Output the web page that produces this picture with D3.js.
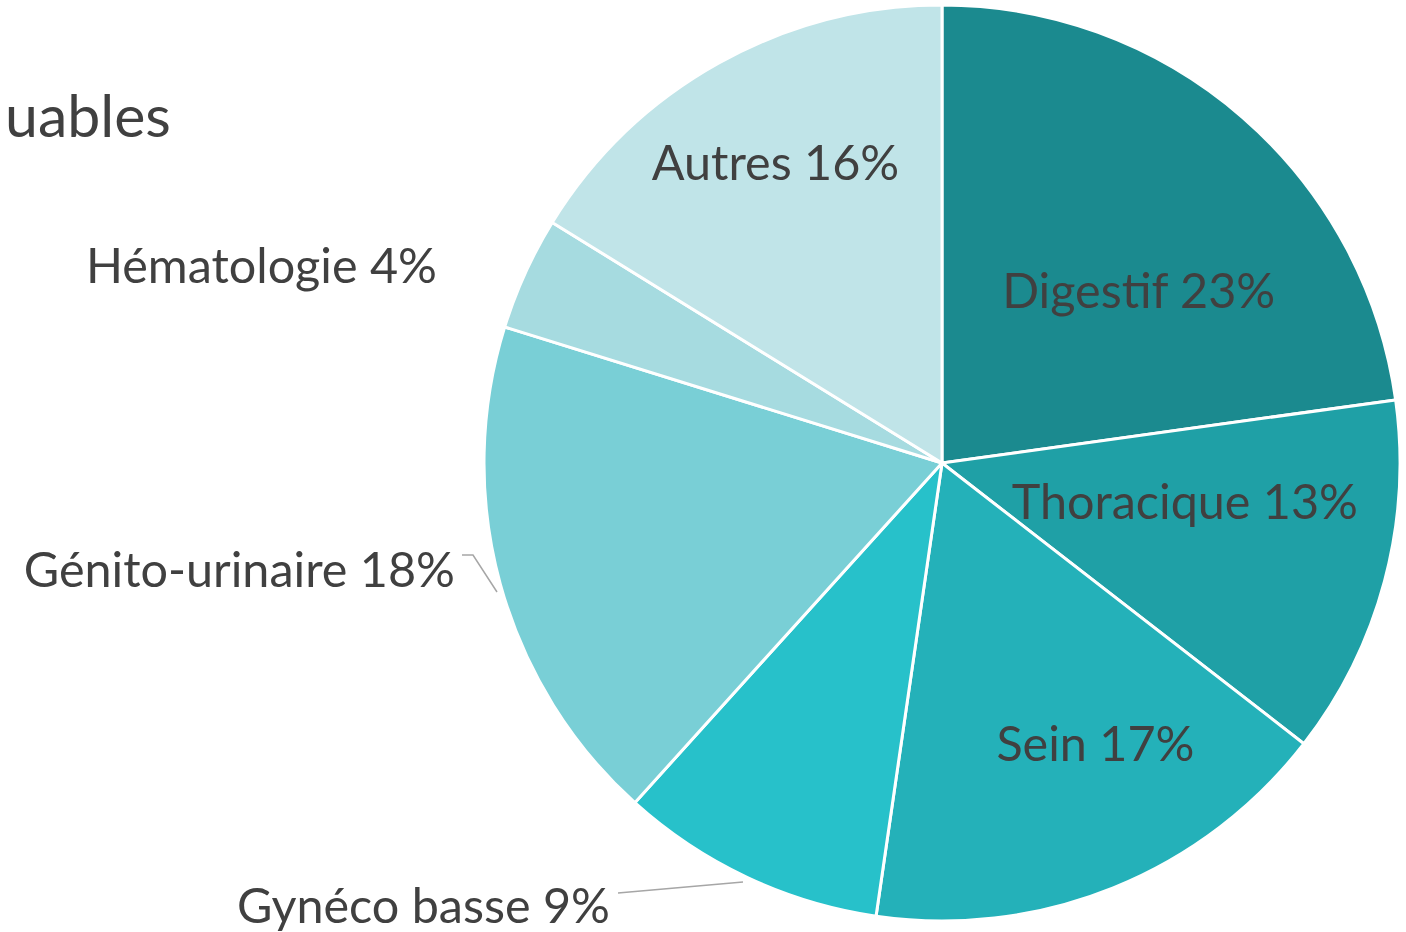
<!DOCTYPE html>
<html><head><meta charset="utf-8">
<script src="https://cdn.jsdelivr.net/npm/d3@7"></script>
<style>html,body{margin:0;padding:0;background:#fff;overflow:hidden}</style>
</head><body>
<svg id="chart" width="1406" height="932"></svg>
<script>
// Data
const categories = ["Digestif","Thoracique","Sein","Gynéco basse","Génito-urinaire","Hématologie","Autres"];
const shares = [22.8, 12.7, 16.8, 9.4, 18.1, 4.0, 16.2];
const colors = ["#1b8a8f","#1fa0a6","#24b1b9","#27c1ca","#79cfd6","#a6dbe0","#c0e4e8"];
const titleText = "uables";

// Layout
const W = 1406, H = 932;
const cx = 942, cy = 463, R = 458;
const font = "Lato, 'Open Sans', sans-serif";
const fs = 48.5;
const textColor = "#404040";
const labelLayout = [
  {mode:"in", r:0.57, a:48.9},
  {mode:"in", r:0.537, a:99.1},
  {mode:"in", r:0.70, a:151.4},
  {mode:"out", tx:-332, ty:460, anchor:"end", leader:[[-324,430],[-199,419]]},
  {mode:"out", tx:-487, ty:124, anchor:"end", leader:[[-480,92],[-469,92],[-445,129]]},
  {mode:"out", tx:-505, ty:-180, anchor:"end"},
  {mode:"in", r:0.75, a:-29}
];

const svg = d3.select("#chart");
svg.append("text").attr("x", 5).attr("y", 137)
  .attr("font-family", font).attr("font-size", 59).attr("fill", textColor).text(titleText);

const pie = d3.pie().sort(null).value(d => d);
const arcs = pie(shares);
const arc = d3.arc().innerRadius(0).outerRadius(R);
const g = svg.append("g").attr("transform", `translate(${cx},${cy})`);

g.selectAll("path.slice").data(arcs).join("path")
  .attr("class","slice")
  .attr("d", arc)
  .attr("fill", (d,i) => colors[i])
  .attr("stroke", "#fff").attr("stroke-width", 3).attr("stroke-linejoin","round");

const fmt = v => Math.round(v) + "%";
arcs.forEach((d,i) => {
  const L = labelLayout[i];
  const label = categories[i] + " " + fmt(shares[i]);
  if (L.mode === "in") {
    const ang = L.a * Math.PI/180;
    const x = Math.sin(ang) * R * L.r, y = -Math.cos(ang) * R * L.r;
    g.append("text").attr("x", x).attr("y", y).attr("dy", "0.35em")
      .attr("text-anchor","middle").attr("font-family", font).attr("font-size", fs)
      .attr("fill", textColor).text(label);
  } else {
    if (L.leader) {
      g.append("path").attr("d", d3.line()(L.leader))
        .attr("fill","none").attr("stroke","#a6a6a6").attr("stroke-width",1.5);
    }
    g.append("text").attr("x", L.tx).attr("y", L.ty)
      .attr("text-anchor", L.anchor).attr("font-family", font).attr("font-size", fs)
      .attr("fill", textColor).text(label);
  }
});
</script>
</body></html>
